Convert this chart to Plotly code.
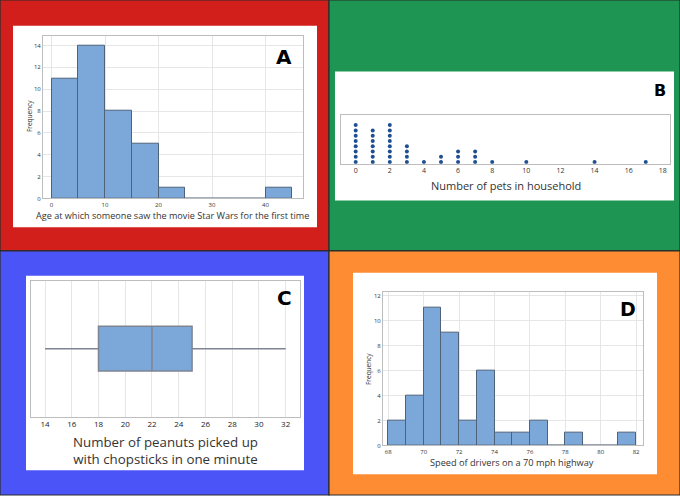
import plotly.graph_objects as go

# ---------------- data ----------------
# A: age when first saw Star Wars (bin width 5)
age_bin_left = [0, 5, 10, 15, 20, 25, 30, 35, 40]
age_counts = [11, 14, 8, 5, 1, 0, 0, 0, 1]
age_bin_width = 5

# B: number of pets in household (dot plot)
pet_values = [0, 1, 2, 3, 4, 5, 6, 7, 8, 10, 14, 17]
pet_counts = [8, 7, 8, 4, 1, 2, 3, 3, 1, 1, 1, 1]

# C: peanuts picked up with chopsticks (boxplot five-number summary)
peanut_min = 14
peanut_q1 = 18
peanut_median = 22
peanut_q3 = 25
peanut_max = 32

# D: speed of drivers (bin width 1)
speed_bin_left = [68, 69, 70, 71, 72, 73, 74, 75, 76, 77, 78, 79, 80, 81]
speed_counts = [2, 4, 11, 9, 2, 6, 1, 1, 2, 0, 1, 0, 0, 1]
speed_bin_width = 1

W, H = 680, 499
BAR_FILL = "#7BA7D9"
BAR_LINE = "#50627A"
GRID = "#E6E6E6"
FRAME = "#BDBDBD"
TICKC = "#333333"
FONT = "Open Sans"


def px(x):
    return x / W


def py(y):
    return 1 - y / H


fig = go.Figure()

# A histogram
fig.add_trace(go.Bar(
    x=[l + age_bin_width / 2 for l in age_bin_left], y=age_counts,
    width=age_bin_width, marker=dict(color=BAR_FILL, line=dict(color=BAR_LINE, width=1)),
    xaxis="x", yaxis="y", showlegend=False, hoverinfo="x+y"))

# B dot plot
bx, by = [], []
for v, c in zip(pet_values, pet_counts):
    for k in range(c):
        bx.append(v)
        by.append(k)
fig.add_trace(go.Scatter(
    x=bx, y=by, mode="markers", marker=dict(color="#1F4F91", size=4),
    xaxis="x2", yaxis="y2", showlegend=False))

# C box plot
fig.add_trace(go.Box(
    q1=[peanut_q1], median=[peanut_median], q3=[peanut_q3],
    lowerfence=[peanut_min], upperfence=[peanut_max], y=[0], width=0.66,
    orientation="h", fillcolor=BAR_FILL, line=dict(color="#7E8592", width=1.5),
    whiskerwidth=0, xaxis="x3", yaxis="y3", showlegend=False, boxpoints=False))

# D histogram
fig.add_trace(go.Bar(
    x=[l + speed_bin_width / 2 for l in speed_bin_left], y=speed_counts,
    width=speed_bin_width, marker=dict(color=BAR_FILL, line=dict(color=BAR_LINE, width=1)),
    xaxis="x4", yaxis="y4", showlegend=False))

# quadrant backgrounds and white panels
shapes = []
quads = [
    (0, 0, 329, 253, "#D21F1B"),
    (329, 0, 680, 253, "#1E9552"),
    (0, 253, 329, 499, "#4B55F7"),
    (329, 253, 680, 499, "#FE8C33"),
]
for x0, y0, x1, y1, col in quads:
    shapes.append(dict(type="rect", xref="paper", yref="paper", x0=px(x0), x1=px(x1),
                       y0=py(y1), y1=py(y0), fillcolor=col,
                       line=dict(color="#2B2B2B", width=1.2), layer="below"))
panels = [(13, 26, 317, 229), (335, 72, 674, 202), (26, 278, 304, 474), (353, 275, 657, 478)]
for x0, y0, x1, y1 in panels:
    shapes.append(dict(type="rect", xref="paper", yref="paper", x0=px(x0), x1=px(x1),
                       y0=py(y1), y1=py(y0), fillcolor="white",
                       line=dict(width=0), layer="below"))


def axis(domain, rng, **kw):
    d = dict(domain=domain, range=rng, showline=True, mirror=True, linecolor=FRAME,
             linewidth=1, zeroline=False, ticks="", tickfont=dict(size=6, color=TICKC, family=FONT),
             showgrid=True, gridcolor=GRID, gridwidth=1, fixedrange=True,
             ticklabeloverflow="allow")
    d.update(kw)
    return d


layout = dict(
    width=W, height=H, margin=dict(l=0, r=0, t=0, b=0),
    paper_bgcolor="white", plot_bgcolor="rgba(0,0,0,0)",
    shapes=shapes, bargap=0, font=dict(family=FONT),
    xaxis=axis([px(43), px(303)], [-1.6, 47], anchor="y", tickvals=[0, 10, 20, 30, 40]),
    yaxis=axis([py(200), py(36)], [0, 14.9], anchor="x", tickvals=list(range(0, 15, 2))),
    xaxis2=axis([px(341), px(670)], [-0.86, 18.42], anchor="y2", tickvals=list(range(0, 19, 2)),
                showgrid=False, tickfont=dict(size=7, color=TICKC, family=FONT)),
    yaxis2=axis([py(165), py(116)], [-0.3, 8.9], anchor="x2", showticklabels=False, showgrid=False),
    xaxis3=axis([px(30.7), px(300)], [12.93, 33.07], anchor="y3", tickvals=list(range(14, 33, 2)),
                tickfont=dict(size=8, color="#222222", family=FONT)),
    yaxis3=axis([py(420), py(283)], [-1, 1], anchor="x3", showticklabels=False, showgrid=False),
    xaxis4=axis([px(383), px(643)], [67.7, 82.39], anchor="y4", tickvals=list(range(68, 83, 2))),
    yaxis4=axis([py(449), py(294)], [0, 12.3], anchor="x4", tickvals=list(range(0, 13, 2))),
)

ann = []


def label(text, x, y, size, color="#333333", angle=0, family=FONT):
    ann.append(dict(text=text, x=px(x), y=py(y), xref="paper", yref="paper", showarrow=False,
                    xanchor="center", yanchor="middle", textangle=angle,
                    font=dict(size=size, color=color, family=family)))


label("Age at which someone saw the movie Star Wars for the first time", 172, 217, 9.1)
label("Frequency", 29, 117, 6.5, angle=-90)
label("Number of pets in household", 506, 187, 11)
label("Number of peanuts picked up<br>with chopsticks in one minute", 165, 454, 13.3)
label("Speed of drivers on a 70 mph highway", 512, 466, 9.2)
label("Frequency", 368, 372, 6.5, angle=-90)
for t, x, y, s in [("A", 284, 57, 20), ("B", 660, 91, 16), ("C", 284, 300, 20), ("D", 628, 312, 19)]:
    label("<b>" + t + "</b>", x, y, s, color="black", family="DejaVu Sans")

layout["annotations"] = ann
fig.update_layout(**layout)
fig.write_html("out.html", config={"displayModeBar": False},
               post_script="document.body.style.margin='0';document.body.style.overflow='hidden';")
